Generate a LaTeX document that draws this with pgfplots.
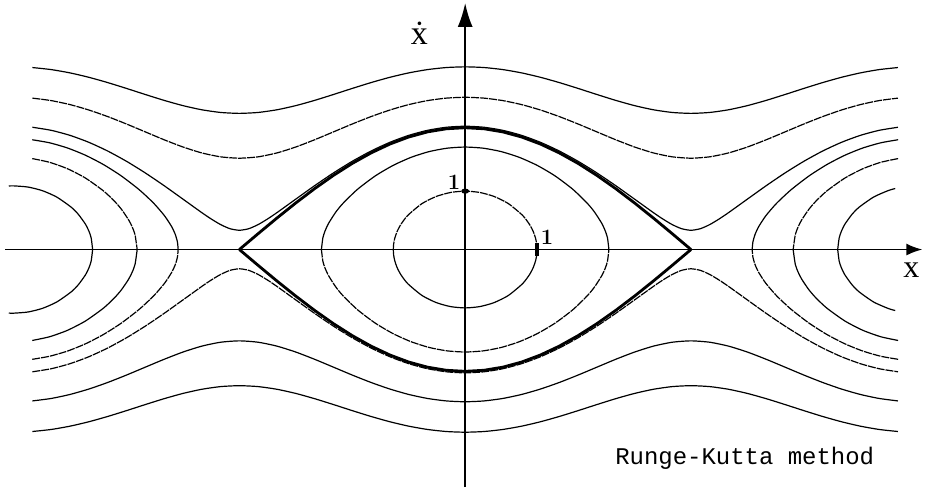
\documentclass[border=0pt]{standalone}
\usepackage{pgfplots}
\pgfplotsset{compat=1.18}
\usepackage{pgfplotstable}
\usepackage{fontspec}
\newfontfamily\monofont{Liberation Mono}
\newfontfamily\seriffont{Liberation Serif}
\usetikzlibrary{arrows.meta}

% Pendulum x'' = -sin x : phase curves, velocity v >= 0 branch (mirrored for v < 0)
% rotating orbits: a -> E = 3.5, b -> E = 2.125
\pgfplotstableread{
x a b
-6.0214 2.98862 2.48633
-5.7596 2.95500 2.44582
-5.4978 2.90073 2.37996
-5.2360 2.82843 2.29129
-4.9742 2.74183 2.18349
-4.7124 2.64575 2.06155
-4.4506 2.54605 1.93193
-4.1888 2.44949 1.80278
-3.9270 2.36343 1.68398
-3.6652 2.29520 1.58680
-3.4034 2.25125 1.52255
-3.1416 2.23607 1.50000
-2.8798 2.25125 1.52255
-2.6180 2.29520 1.58680
-2.3562 2.36343 1.68398
-2.0944 2.44949 1.80278
-1.8326 2.54605 1.93193
-1.5708 2.64575 2.06155
-1.3090 2.74183 2.18349
-1.0472 2.82843 2.29129
-0.7854 2.90073 2.37996
-0.5236 2.95500 2.44582
-0.2618 2.98862 2.48633
0.0000 3.00000 2.50000
0.2618 2.98862 2.48633
0.5236 2.95500 2.44582
0.7854 2.90073 2.37996
1.0472 2.82843 2.29129
1.3090 2.74183 2.18349
1.5708 2.64575 2.06155
1.8326 2.54605 1.93193
2.0944 2.44949 1.80278
2.3562 2.36343 1.68398
2.6180 2.29520 1.58680
2.8798 2.25125 1.52255
3.1416 2.23607 1.50000
3.4034 2.25125 1.52255
3.6652 2.29520 1.58680
3.9270 2.36343 1.68398
4.1888 2.44949 1.80278
4.4506 2.54605 1.93193
4.7124 2.64575 2.06155
4.9742 2.74183 2.18349
5.2360 2.82843 2.29129
5.4978 2.90073 2.37996
5.7596 2.95500 2.44582
6.0214 2.98862 2.48633
}\rotating

% rotating orbit just outside the separatrix, E = 1.05
\pgfplotstableread{
x v
-6.0214 2.00795
-5.7596 1.95756
-5.4978 1.87462
-5.2360 1.76068
-4.9742 1.61792
-4.7124 1.44914
-4.4506 1.25792
-4.1888 1.04881
-3.9270 0.82812
-3.6652 0.60659
-3.5343 0.50223
-3.4034 0.41006
-3.2725 0.34221
-3.1416 0.31623
-3.0107 0.34221
-2.8798 0.41006
-2.7489 0.50223
-2.6180 0.60659
-2.3562 0.82812
-2.0944 1.04881
-1.8326 1.25792
-1.5708 1.44914
-1.3090 1.61792
-1.0472 1.76068
-0.7854 1.87462
-0.5236 1.95756
-0.2618 2.00795
0.0000 2.02485
0.2618 2.00795
0.5236 1.95756
0.7854 1.87462
1.0472 1.76068
1.3090 1.61792
1.5708 1.44914
1.8326 1.25792
2.0944 1.04881
2.3562 0.82812
2.6180 0.60659
2.7489 0.50223
2.8798 0.41006
3.0107 0.34221
3.1416 0.31623
3.2725 0.34221
3.4034 0.41006
3.5343 0.50223
3.6652 0.60659
3.9270 0.82812
4.1888 1.04881
4.4506 1.25792
4.7124 1.44914
4.9742 1.61792
5.2360 1.76068
5.4978 1.87462
5.7596 1.95756
6.0214 2.00795
}\outer

% separatrix, E = 1
\pgfplotstableread{
x v
-3.1416 0.00000
-2.8798 0.26105
-2.6180 0.51764
-2.3562 0.76537
-2.0944 1.00000
-1.8326 1.21752
-1.5708 1.41421
-1.3090 1.58671
-1.0472 1.73205
-0.7854 1.84776
-0.5236 1.93185
-0.2618 1.98289
0.0000 2.00000
0.2618 1.98289
0.5236 1.93185
0.7854 1.84776
1.0472 1.73205
1.3090 1.58671
1.5708 1.41421
1.8326 1.21752
2.0944 1.00000
2.3562 0.76537
2.6180 0.51764
2.8798 0.26105
3.1416 0.00000
}\separatrix

% oscillation with amplitude 1
\pgfplotstableread{
x v
-1.000 0.00000
-0.995 0.09177
-0.980 0.18287
-0.950 0.28768
-0.900 0.40326
-0.800 0.55930
-0.600 0.75504
-0.400 0.87265
-0.200 0.93784
0.000 0.95885
0.200 0.93784
0.400 0.87265
0.600 0.75504
0.800 0.55930
0.900 0.40326
0.950 0.28768
0.980 0.18287
0.995 0.09177
1.000 0.00000
}\oscA

% oscillation with amplitude 2
\pgfplotstableread{
x v
-2.00 0.00000
-1.98 0.19115
-1.95 0.30322
-1.90 0.43095
-1.80 0.61474
-1.70 0.75804
-1.50 0.98681
-1.25 1.20952
-1.00 1.38308
-0.75 1.51515
-0.50 1.60856
-0.25 1.66437
0.00 1.68294
0.25 1.66437
0.50 1.60856
0.75 1.51515
1.00 1.38308
1.25 1.20952
1.50 0.98681
1.70 0.75804
1.80 0.61474
1.90 0.43095
1.95 0.30322
1.98 0.19115
2.00 0.00000
}\oscB

% oscillations about x = -2 pi (amplitudes 1.1, 1.72, 2.29)
\pgfplotstableread{
x v
-6.3500 1.04323
-6.2832 1.04537
-6.0832 1.02613
-5.8832 0.96691
-5.6832 0.86225
-5.4832 0.69730
-5.3832 0.57967
-5.2832 0.41641
-5.2332 0.29655
-5.2032 0.18831
-5.1832 0.00000
}\leftA

\pgfplotstableread{
x v
-6.0232 1.49334
-5.7832 1.43264
-5.5332 1.32690
-5.2832 1.17384
-5.0332 0.96330
-4.8832 0.79827
-4.7832 0.66240
-4.6832 0.48877
-4.6332 0.37291
-4.5932 0.24384
-4.5632 0.00000
}\leftB

\pgfplotstableread{
x v
-6.0232 1.80287
-5.7832 1.75292
-5.5332 1.66762
-5.2832 1.54860
-5.0332 1.39578
-4.7832 1.20791
-4.5332 0.98034
-4.3332 0.75974
-4.1832 0.55485
-4.0832 0.37491
-4.0332 0.24743
-4.0032 0.12296
-3.9932 0.00000
}\leftC

% oscillation about x = +2 pi, amplitude 1.1
\pgfplotstableread{
x v
5.1832 0.00000
5.2032 0.18831
5.2332 0.29655
5.2832 0.41641
5.3832 0.57967
5.4832 0.69730
5.6832 0.86225
5.8832 0.96691
5.9832 1.00174
}\rightA

\begin{document}
\begin{tikzpicture}
\begin{axis}[
  scale only axis,
  width=463pt, height=244pt,
  xmin=-6.472, xmax=6.389,
  ymin=-3.902, ymax=4.098,
  axis lines=none,
  clip=false,
  cycle list={{black, mark=none, dash pattern=on 4pt off 0.5pt}},
  every axis plot/.append style={line width=0.6pt, smooth, tension=0.4},
]
\path (rel axis cs:0,0) rectangle (rel axis cs:1,1);

% coordinate axes
\draw[line width=0.9pt, -{Latex[length=8pt,width=6pt]}] (axis cs:-6.40,0) -- (axis cs:6.361,0);
\draw[line width=0.9pt, -{Latex[length=12pt,width=7.5pt]}] (axis cs:0,-3.902) -- (axis cs:0,4.049);
\draw[line width=1.8pt] (axis cs:1,-0.10) -- (axis cs:1,0.10);
\fill (axis cs:0,0.959) ellipse[x radius=2pt, y radius=1.3pt];

% rotating motions
\addplot table[x=x, y=a] {\rotating};
\addplot table[x=x, y expr=-\thisrow{a}] {\rotating};
\addplot table[x=x, y=b] {\rotating};
\addplot table[x=x, y expr=-\thisrow{b}] {\rotating};
\addplot table[x=x, y=v] {\outer};
\addplot table[x=x, y expr=-\thisrow{v}] {\outer};

% separatrix
\addplot[black, mark=none, line width=1.4pt, sharp plot] table[x=x, y=v] {\separatrix};
\addplot[black, mark=none, line width=1.4pt, sharp plot] table[x=x, y expr=-\thisrow{v}] {\separatrix};

% oscillations about the origin
\addplot table[x=x, y=v] {\oscA};
\addplot table[x=x, y expr=-\thisrow{v}] {\oscA};
\addplot table[x=x, y=v] {\oscB};
\addplot table[x=x, y expr=-\thisrow{v}] {\oscB};

% oscillations about -2 pi
\addplot table[x=x, y=v] {\leftA};
\addplot table[x=x, y expr=-\thisrow{v}] {\leftA};
\addplot table[x=x, y=v] {\leftB};
\addplot table[x=x, y expr=-\thisrow{v}] {\leftB};
\addplot table[x=x, y=v] {\leftC};
\addplot table[x=x, y expr=-\thisrow{v}] {\leftC};

% oscillations about +2 pi
\addplot table[x=x, y=v] {\rightA};
\addplot table[x=x, y expr=-\thisrow{v}] {\rightA};
\addplot table[x expr=-\thisrow{x}, y=v] {\leftB};
\addplot table[x expr=-\thisrow{x}, y expr=-\thisrow{v}] {\leftB};
\addplot table[x expr=-\thisrow{x}, y=v] {\leftC};
\addplot table[x expr=-\thisrow{x}, y expr=-\thisrow{v}] {\leftC};

% labels
\node[font=\seriffont\fontsize{17}{17}\selectfont] at (axis cs:-0.639,3.55) {ẋ};
\node[font=\seriffont\fontsize{16}{16}\selectfont] at (axis cs:6.208,-0.344) {x};
\node[font=\fontsize{11}{11}\selectfont\bfseries] at (axis cs:1.139,0.197) {1};
\node[font=\fontsize{11}{11}\selectfont\bfseries] at (axis cs:-0.153,1.10) {1};
\node[font=\monofont\fontsize{12}{12}\selectfont] at (axis cs:3.889,-3.426) {Runge-Kutta method};
\end{axis}
\end{tikzpicture}
\end{document}
